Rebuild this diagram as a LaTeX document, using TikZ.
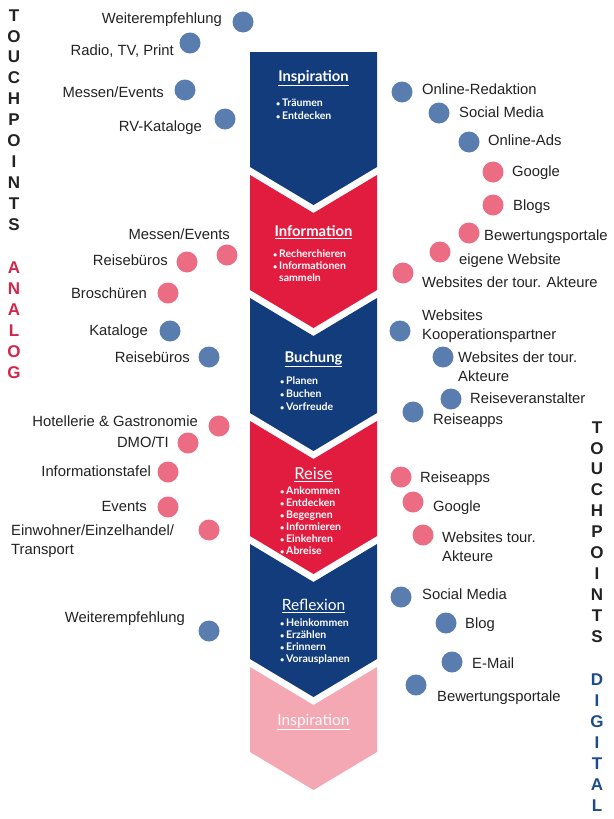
\documentclass[tikz,border=0pt]{standalone}
\usepackage{fontspec}
\setmainfont{Liberation Sans}
\newfontfamily\lato{Lato}
\definecolor{navy}{HTML}{123C7C}
\definecolor{chred}{HTML}{E21C3F}
\definecolor{chpink}{HTML}{F4A8B3}
\definecolor{dotblue}{HTML}{5A7DB0}
\definecolor{dotpink}{HTML}{EB6C83}
\definecolor{txt}{HTML}{222222}
\definecolor{anared}{HTML}{D2264B}
\definecolor{digblue}{HTML}{1E4C8A}
\newcommand\bl{\raisebox{0.12ex}{\scalebox{0.7}{•}}\,}
\begin{document}
\begin{tikzpicture}[x=1pt,y=-1pt,
  dotb/.style={circle, fill=dotblue, minimum size=21pt, inner sep=0pt},
  dotp/.style={circle, fill=dotpink, minimum size=21pt, inner sep=0pt},
  labl/.style={font=\fontsize{14.8}{19}\selectfont, text=txt, inner sep=0pt, text height=10.6pt, text depth=0pt, anchor=east},
  labr/.style={font=\fontsize{14.8}{19}\selectfont, text=txt, inner sep=0pt, text height=10.6pt, text depth=0pt, anchor=west},
  labtwo/.style={font=\fontsize{14.8}{19}\selectfont, text=txt, inner sep=0pt, anchor=base west, align=left},
  ttlb/.style={font=\lato\bfseries\fontsize{14.8}{16}\selectfont, text=white, inner sep=0pt},
  ttlr/.style={font=\lato\fontsize{15.5}{18}\selectfont, text=white, inner sep=0pt},
  bul/.style={anchor=west, font=\lato\bfseries\fontsize{10.5}{12}\selectfont, text=white, inner sep=0pt, text height=7.4pt, text depth=0pt},
  vert/.style={anchor=base, align=center, font=\bfseries\fontsize{17}{20.9}\selectfont, inner sep=0pt}
]
\useasboundingbox (0,0) rectangle (613,819);

% chevrons
\fill[navy] (250,52) -- (377,52) -- (377,167) -- (313.5,205) -- (250,167) -- cycle;
\fill[chred] (250,175) -- (313.5,213) -- (377,175) -- (377,290) -- (313.5,328) -- (250,290) -- cycle;
\fill[navy] (250,298) -- (313.5,336) -- (377,298) -- (377,413) -- (313.5,451) -- (250,413) -- cycle;
\fill[chred] (250,421) -- (313.5,459) -- (377,421) -- (377,536) -- (313.5,574) -- (250,536) -- cycle;
\fill[navy] (250,544) -- (313.5,582) -- (377,544) -- (377,659) -- (313.5,697) -- (250,659) -- cycle;
\fill[chpink] (250,667) -- (313.5,705) -- (377,667) -- (377,752) -- (313.5,790) -- (250,752) -- cycle;

% chevron texts
\node[ttlb] (t1) at (313.5,78) {\underline{Inspiration}};
\node[bul] (b11) at (276,103) {\bl Träumen};
\node[bul] (b12) at (276,116) {\bl Entdecken};

\node[ttlb] (t2) at (313.5,232) {\underline{Information}};
\node[bul] (b21) at (273,254) {\bl Recherchieren};
\node[bul] (b22) at (273,266) {\bl Informationen};
\node[bul] (b23) at (273,278) {\phantom{\bl}sammeln};

\node[ttlb] (t3) at (313.5,359) {\underline{Buchung}};
\node[bul] (b31) at (280,381) {\bl Planen};
\node[bul] (b32) at (280,394) {\bl Buchen};
\node[bul] (b33) at (280,407) {\bl Vorfreude};

\node[ttlr, font=\lato\fontsize{16.5}{18}\selectfont] (t4) at (313.5,475) {\underline{Reise}};
\node[bul] (b41) at (280,491) {\bl Ankommen};
\node[bul] (b42) at (280,503) {\bl Entdecken};
\node[bul] (b43) at (280,515) {\bl Begegnen};
\node[bul] (b44) at (280,527) {\bl Informieren};
\node[bul] (b45) at (280,539) {\bl Einkehren};
\node[bul] (b46) at (280,551) {\bl Abreise};

\node[ttlr] (t5) at (313.5,606) {\underline{Reflexion}};
\node[bul] (b51) at (280,623) {\bl Heinkommen};
\node[bul] (b52) at (280,635) {\bl Erzählen};
\node[bul] (b53) at (280,647) {\bl Erinnern};
\node[bul] (b54) at (280,659) {\bl Vorausplanen};

\node[ttlr, text=white!95!chpink] (t6) at (313.5,722) {\underline{Inspiration}};

% vertical labels (anchor = baseline of last letter)
\node[vert, text=txt] (vl1) at (14,230.1) {T\\O\\U\\C\\H\\P\\O\\I\\N\\T\\S};
\node[vert, text=anared] (vl2) at (14,378.1) {A\\N\\A\\L\\O\\G};
\node[vert, text=txt] (vr1) at (597,642.1) {T\\O\\U\\C\\H\\P\\O\\I\\N\\T\\S};
\node[vert, text=digblue] (vr2) at (597,811.1) {D\\I\\G\\I\\T\\A\\L};

% left touchpoints
\node[dotb] (dl1) at (243,22) {};   \node[labl] (ll1) at (222,18) {Weiterempfehlung};
\node[dotb] (dl2) at (190,43) {};   \node[labl] (ll2) at (174,50) {Radio, TV, Print};
\node[dotb] (dl3) at (185,90) {};   \node[labl] (ll3) at (164,92) {Messen/Events};
\node[dotb] (dl4) at (225,119) {};  \node[labl] (ll4) at (202,126) {RV-Kataloge};
\node[dotp] (dl5) at (227,255) {};  \node[labl] (ll5) at (230,234) {Messen/Events};
\node[dotp] (dl6) at (187,262) {};  \node[labl] (ll6) at (168,260) {Reisebüros};
\node[dotp] (dl7) at (168,293) {};  \node[labl] (ll7) at (147,293) {Broschüren};
\node[dotb] (dl8) at (170,331) {};  \node[labl] (ll8) at (148,330) {Kataloge};
\node[dotb] (dl9) at (209,357) {};  \node[labl] (ll9) at (190,357) {Reisebüros};
\node[dotp] (dl10) at (219,426) {}; \node[labl] (ll10) at (198,421) {Hotellerie \& Gastronomie};
\node[dotp] (dl11) at (188,443) {}; \node[labl] (ll11) at (169,442) {DMO/TI};
\node[dotp] (dl12) at (168,472) {}; \node[labl] (ll12) at (151,471) {Informationstafel};
\node[dotp] (dl13) at (168,507) {}; \node[labl] (ll13) at (147,506) {Events};
\node[dotp] (dl14) at (209,530) {}; \node[labtwo] (ll14) at (11,554.3) {Einwohner/Einzelhandel/\\Transport};
\node[dotb] (dl15) at (209,631) {}; \node[labl] (ll15) at (185,617) {Weiterempfehlung};

% right touchpoints
\node[dotb] (dr1) at (402,92) {};   \node[labr] (lr1) at (422,89) {Online-Redaktion};
\node[dotb] (dr2) at (439,113) {};  \node[labr] (lr2) at (459,112) {Social Media};
\node[dotb] (dr3) at (469,142) {};  \node[labr] (lr3) at (488,140) {Online-Ads};
\node[dotp] (dr4) at (493,172) {};  \node[labr] (lr4) at (512,171) {Google};
\node[dotp] (dr5) at (493,205) {};  \node[labr] (lr5) at (513,205) {Blogs};
\node[dotp] (dr6) at (469,233) {};  \node[labr] (lr6) at (484,235) {Bewertungsportale};
\node[dotp] (dr7) at (440,252) {};  \node[labr] (lr7) at (459,259) {eigene Website};
\node[dotp] (dr8) at (403,273) {};  \node[labr] (lr8) at (422,282) {Websites der tour. Akteure};
\node[dotb] (dr9) at (400,331) {};  \node[labtwo] (lr9) at (422,339.3) {Websites\\Kooperationspartner};
\node[dotb] (dr10) at (443,357) {}; \node[labtwo] (lr10) at (458,381.3) {Websites der tour.\\Akteure};
\node[dotb] (dr11) at (451,399) {}; \node[labr] (lr11) at (470,398) {Reiseveranstalter};
\node[dotb] (dr12) at (413,412) {}; \node[labr] (lr12) at (433,419) {Reiseapps};
\node[dotp] (dr13) at (401,477) {}; \node[labr] (lr13) at (420,477) {Reiseapps};
\node[dotp] (dr14) at (413,502) {}; \node[labr] (lr14) at (433,506) {Google};
\node[dotp] (dr15) at (423,535) {}; \node[labtwo] (lr15) at (442,561.3) {Websites tour.\\Akteure};
\node[dotb] (dr16) at (401,597) {}; \node[labr] (lr16) at (422,594) {Social Media};
\node[dotb] (dr17) at (446,623) {}; \node[labr] (lr17) at (465,623) {Blog};
\node[dotb] (dr18) at (452,662) {}; \node[labr] (lr18) at (472,663) {E-Mail};
\node[dotb] (dr19) at (416,685) {}; \node[labr] (lr19) at (437,696) {Bewertungsportale};
\end{tikzpicture}
\end{document}
